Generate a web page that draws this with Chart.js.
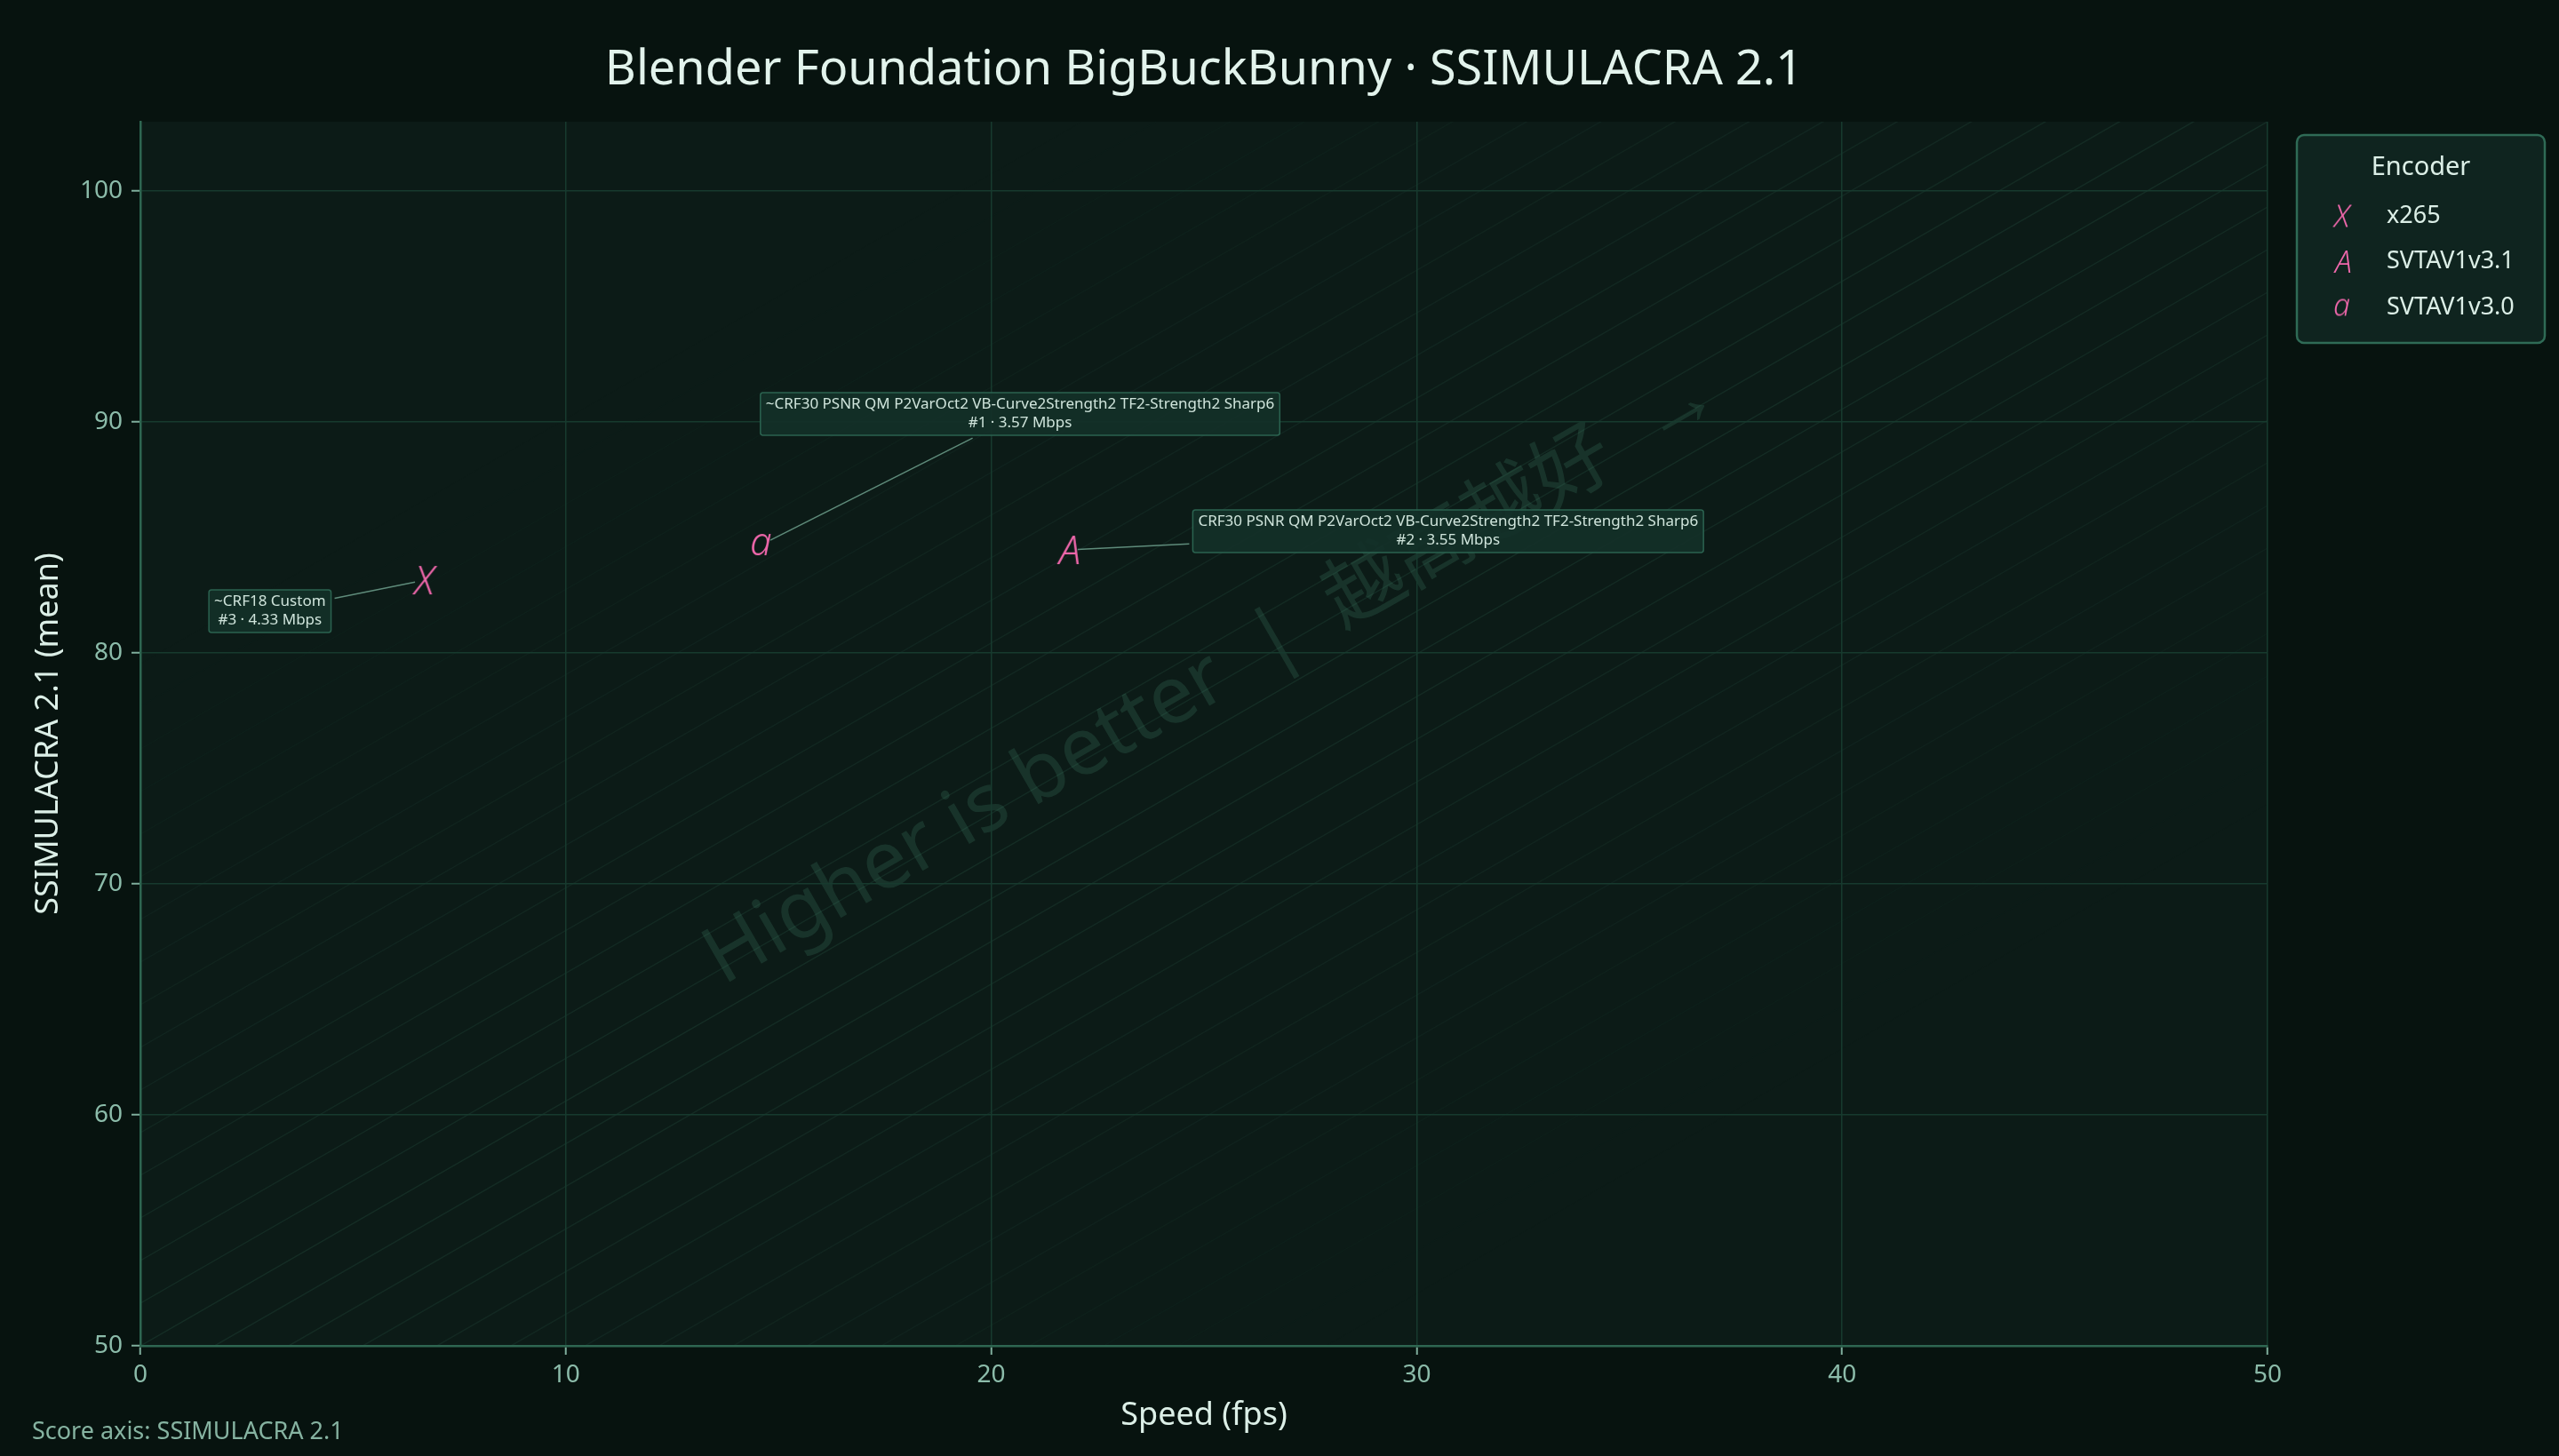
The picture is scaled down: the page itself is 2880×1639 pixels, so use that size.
<!DOCTYPE html>
<html>
<head>
<meta charset="utf-8">
<title>BigBuckBunny · SSIMULACRA 2.1</title>
<script src="https://cdn.jsdelivr.net/npm/chart.js@4.4.1/dist/chart.umd.min.js"></script>
<style>
  html, body { margin: 0; padding: 0; background: #07130f; }
  #wrap { width: 2880px; height: 1639px; }
</style>
</head>
<body>
<div id="wrap"><canvas id="chart" width="2880" height="1639"></canvas></div>
<script>
// ── data ────────────────────────────────────
const ENCODERS = ['x265', 'SVTAV1v3.1', 'SVTAV1v3.0'];
const MARKERS  = ['X', 'A', 'a'];
const SPEED    = [6.68, 21.80, 14.60];      // fps
const SCORE    = [83.15, 84.46, 84.69];     // SSIMULACRA 2.1 mean
const PRESETS  = [
  '~CRF18 Custom',
  'CRF30 PSNR QM P2VarOct2 VB-Curve2Strength2 TF2-Strength2 Sharp6',
  '~CRF30 PSNR QM P2VarOct2 VB-Curve2Strength2 TF2-Strength2 Sharp6',
];
const RANKS    = [3, 2, 1];
const MBPS     = [4.33, 3.55, 3.57];

const X_TICKS = [0, 10, 20, 30, 40, 50];
const Y_TICKS = [50, 60, 70, 80, 90, 100];
const Y_MAX   = 103;

// ── look ────────────────────────────────────
const FONT        = '"Noto Sans", "Open Sans", sans-serif';
const BG          = '#07130f';
const PLOT_BG     = '#0c1b17';
const GRID        = '#173a2e';
const AXIS        = '#2e6651';
const TICK_TXT    = '#8cbcaa';
const TEXT        = '#dcefe7';
const MARKER_CLR  = '#f068ac';
// label box offsets from their point, in px
const LABEL_OFFSETS = [[-174, 35], [428, -21], [291, -147]];

function glyphCanvas(ch, size) {
  const font = `italic 300 ${size}px ${FONT}`;
  const m = document.createElement('canvas').getContext('2d');
  m.font = font;
  const t = m.measureText(ch);
  const l = t.actualBoundingBoxLeft, r = t.actualBoundingBoxRight;
  const a = t.actualBoundingBoxAscent, d = t.actualBoundingBoxDescent;
  const pad = 3;
  const c = document.createElement('canvas');
  c.width = Math.ceil(l + r + pad * 2);
  c.height = Math.ceil(a + d + pad * 2);
  const g = c.getContext('2d');
  g.font = font;
  g.fillStyle = MARKER_CLR;
  g.fillText(ch, pad + l, pad + a);
  return c;
}

const plotGlyphs   = MARKERS.map(ch => glyphCanvas(ch, 44));
const legendGlyphs = MARKERS.map(ch => glyphCanvas(ch, 34));

// ── backgrounds, hatch, watermark ───────────
const backdrop = {
  id: 'backdrop',
  beforeDraw(chart) {
    const { ctx, chartArea: a } = chart;
    ctx.save();
    ctx.fillStyle = BG;
    ctx.fillRect(0, 0, chart.width, chart.height);
    ctx.fillStyle = PLOT_BG;
    ctx.fillRect(a.left, a.top, a.right - a.left, a.bottom - a.top);

    const w = a.right - a.left, h = a.bottom - a.top;
    const ang = Math.atan2(h, w);
    const diag = Math.hypot(w, h);
    const maxD = w * h / diag;
    ctx.beginPath();
    ctx.rect(a.left, a.top, w, h);
    ctx.clip();

    ctx.save();
    ctx.translate(a.left, a.bottom);
    ctx.rotate(-ang);
    ctx.lineWidth = 1.5;
    for (let d = -Math.ceil(maxD / 41.6) * 41.6; d <= maxD; d += 41.6) {
      const alpha = 0.16 * Math.max(0, 1 - Math.abs(d) / 700);
      if (alpha <= 0) continue;
      ctx.strokeStyle = `rgba(70,140,115,${alpha})`;
      ctx.beginPath();
      ctx.moveTo(-200, d);
      ctx.lineTo(diag + 200, d);
      ctx.stroke();
    }
    ctx.restore();

    ctx.save();
    ctx.translate((a.left + a.right) / 2, (a.top + a.bottom) / 2);
    ctx.rotate(-ang);
    ctx.font = `90px ${FONT}, "Noto Sans CJK SC"`;
    ctx.fillStyle = 'rgba(80,160,130,0.19)';
    ctx.textAlign = 'center';
    ctx.textBaseline = 'middle';
    ctx.fillText('Higher is better  |  越高越好  →', 40, -50);
    ctx.restore();

    ctx.restore();
  }
};

// ── labels, legend, title, footnote ─────────
const overlay = {
  id: 'overlay',
  afterDatasetsDraw(chart) {
    const { ctx } = chart;
    ctx.save();
    ctx.font = `17px ${FONT}`;
    const lh = 21, padX = 6, padY = 3;
    chart.data.datasets.forEach((ds, i) => {
      const pt = chart.getDatasetMeta(i).data[0];
      const lines = [PRESETS[i], `#${RANKS[i]} · ${MBPS[i].toFixed(2)} Mbps`];
      const bw = Math.max(...lines.map(s => ctx.measureText(s).width)) + padX * 2;
      const bh = lh * 2 + padY * 2;
      const cx = pt.x + LABEL_OFFSETS[i][0], cy = pt.y + LABEL_OFFSETS[i][1];

      // leader line
      const dx = cx - pt.x, dy = cy - pt.y;
      const len = Math.hypot(dx, dy);
      const t = Math.min((bw / 2 + 4) / Math.abs(dx || 1e-6), (bh / 2 + 3) / Math.abs(dy || 1e-6));
      ctx.strokeStyle = '#5f8c7b';
      ctx.lineWidth = 1.5;
      ctx.beginPath();
      ctx.moveTo(pt.x + dx / len * 11, pt.y + dy / len * 11);
      ctx.lineTo(cx - dx * t, cy - dy * t);
      ctx.stroke();

      // box
      ctx.beginPath();
      ctx.roundRect(cx - bw / 2, cy - bh / 2, bw, bh, 3);
      ctx.fillStyle = 'rgba(19,48,40,0.92)';
      ctx.fill();
      ctx.strokeStyle = '#2b6350';
      ctx.lineWidth = 1.5;
      ctx.stroke();

      ctx.fillStyle = '#cfe4db';
      ctx.textAlign = 'center';
      ctx.textBaseline = 'middle';
      ctx.fillText(lines[0], cx, cy - lh / 2);
      ctx.fillText(lines[1], cx, cy + lh / 2);
    });
    ctx.restore();
  },
  afterDraw(chart) {
    const { ctx, chartArea: a } = chart;
    ctx.save();

    // title
    ctx.fillStyle = '#e2f3ec';
    ctx.font = `54px ${FONT}`;
    ctx.textAlign = 'center';
    ctx.textBaseline = 'alphabetic';
    ctx.fillText('Blender Foundation BigBuckBunny · SSIMULACRA 2.1', (a.left + a.right) / 2, 95);

    // legend
    const lx = 2585, ly = 152, lw = 279, lhgt = 234;
    ctx.beginPath();
    ctx.roundRect(lx, ly, lw, lhgt, 8);
    ctx.fillStyle = '#0f241f';
    ctx.fill();
    ctx.strokeStyle = '#2f6b56';
    ctx.lineWidth = 2.5;
    ctx.stroke();
    ctx.fillStyle = TEXT;
    ctx.textBaseline = 'middle';
    ctx.font = `29px ${FONT}`;
    ctx.fillText('Encoder', lx + lw / 2, ly + 37);
    ctx.textAlign = 'left';
    ctx.font = `27px ${FONT}`;
    ENCODERS.forEach((name, i) => {
      const y = ly + 91 + i * 51.5;
      const g = legendGlyphs[i];
      ctx.drawImage(g, lx + 51 - g.width / 2, y - g.height / 2);
      ctx.fillText(name, lx + 101, y);
    });

    // footnote
    ctx.fillStyle = '#86b3a1';
    ctx.font = `27px ${FONT}`;
    ctx.textBaseline = 'alphabetic';
    ctx.fillText('Score axis: SSIMULACRA 2.1', 36, 1620);
    ctx.restore();
  }
};

// ── chart ───────────────────────────────────
const datasets = ENCODERS.map((name, i) => ({
  label: name,
  data: [{ x: SPEED[i], y: SCORE[i] }],
  pointStyle: plotGlyphs[i],
  pointRadius: 12,
  pointHoverRadius: 12,
}));

new Chart(document.getElementById('chart'), {
  type: 'scatter',
  data: { datasets },
  options: {
    responsive: false,
    devicePixelRatio: 1,
    animation: false,
    layout: { padding: { top: 137, right: 328, bottom: 0, left: 0 } },
    scales: {
      x: {
        type: 'linear',
        min: 0, max: 50,
        afterFit: s => { s.height = 124; },
        afterBuildTicks: s => { s.ticks = X_TICKS.map(v => ({ value: v })); },
        grid: { color: GRID, lineWidth: 1.5, tickLength: 10, tickColor: '#7fae9c', tickWidth: 2 },
        border: { color: AXIS, width: 2.5 },
        ticks: { color: TICK_TXT, font: { family: FONT, size: 28 }, padding: 6, maxRotation: 0 },
        title: {
          display: true, text: 'Speed (fps)', color: TEXT,
          font: { family: FONT, size: 36 }, padding: { top: 0, bottom: 24 }
        }
      },
      y: {
        type: 'linear',
        min: 50, max: Y_MAX,
        afterFit: s => { s.width = 158; },
        afterBuildTicks: s => { s.ticks = Y_TICKS.map(v => ({ value: v })); },
        grid: { color: GRID, lineWidth: 1.5, tickLength: 10, tickColor: '#7fae9c', tickWidth: 2 },
        border: { color: AXIS, width: 2.5 },
        ticks: { color: TICK_TXT, font: { family: FONT, size: 28 }, padding: 10 },
        title: {
          display: true, text: 'SSIMULACRA 2.1 (mean)', color: TEXT,
          font: { family: FONT, size: 36 }, padding: { top: 33, bottom: 0 }
        }
      }
    },
    plugins: {
      legend: { display: false },
      title: { display: false },
      tooltip: { enabled: false }
    }
  },
  plugins: [backdrop, overlay]
});
</script>
</body>
</html>
